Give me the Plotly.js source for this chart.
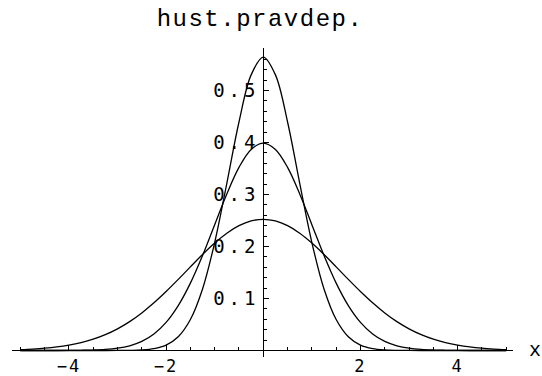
<!DOCTYPE html>
<html>
<head>
<meta charset="utf-8">
<script src="https://cdn.plot.ly/plotly-3.0.1.min.js"></script>
<style>
  html, body { margin: 0; padding: 0; background: #fff; }
  #chart { width: 542px; height: 376px; }
  .ytick text { letter-spacing: 4px; }
  .xtick text { letter-spacing: 2px; }
  .gtitle { letter-spacing: 1.5px; }
</style>
</head>
<body>
<div id="chart"></div>
<script>
// Sample points, x from -5 to 5 in steps of 0.25
const xs = [-5, -4.75, -4.5, -4.25, -4, -3.75, -3.5, -3.25, -3, -2.75, -2.5, -2.25, -2, -1.75, -1.5, -1.25, -1, -0.75, -0.5, -0.25,
            0, 0.25, 0.5, 0.75, 1, 1.25, 1.5, 1.75, 2, 2.25, 2.5, 2.75, 3, 3.25, 3.5, 3.75, 4, 4.25, 4.5, 4.75, 5];

// Narrow density (peak about 0.56)
const narrow = [0, 0, 0, 0, 0, 0, 0, 0, 0.0001, 0.0003, 0.0011, 0.0036, 0.0103, 0.0264, 0.0595, 0.1183, 0.2076, 0.3215, 0.4394, 0.5300,
                0.5642, 0.5300, 0.4394, 0.3215, 0.2076, 0.1183, 0.0595, 0.0264, 0.0103, 0.0036, 0.0011, 0.0003, 0.0001, 0, 0, 0, 0, 0, 0, 0, 0];

// Middle density (peak about 0.4)
const middle = [0, 0, 0, 0, 0.0001, 0.0004, 0.0009, 0.0020, 0.0044, 0.0091, 0.0175, 0.0317, 0.0540, 0.0863, 0.1295, 0.1826, 0.2420, 0.3011, 0.3521, 0.3867,
                0.3989, 0.3867, 0.3521, 0.3011, 0.2420, 0.1826, 0.1295, 0.0863, 0.0540, 0.0317, 0.0175, 0.0091, 0.0044, 0.0020, 0.0009, 0.0004, 0.0001, 0, 0, 0, 0];

// Wide density (peak about 0.25)
const wide = [0.0017, 0.0028, 0.0044, 0.0068, 0.0103, 0.0152, 0.0218, 0.0305, 0.0417, 0.0556, 0.0723, 0.0917, 0.1134, 0.1367, 0.1609, 0.1846, 0.2066, 0.2255, 0.2400, 0.2492,
              0.2523, 0.2492, 0.2400, 0.2255, 0.2066, 0.1846, 0.1609, 0.1367, 0.1134, 0.0917, 0.0723, 0.0556, 0.0417, 0.0305, 0.0218, 0.0152, 0.0103, 0.0068, 0.0044, 0.0028, 0.0017];

const xTickVals = [-4, -2, 2, 4];
const xTickText = ['\u22124', '\u22122', '2', '4'];
const yTickVals = [0.1, 0.2, 0.3, 0.4, 0.5];
const yTickText = ['0.1', '0.2', '0.3', '0.4', '0.5'];

const lineStyle = { color: '#000', width: 1.3, shape: 'spline', smoothing: 1 };
const traces = [narrow, middle, wide].map(ys => ({
  x: xs, y: ys, type: 'scatter', mode: 'lines', line: lineStyle, hoverinfo: 'skip'
}));

const xRange = [-5.171, 5.139];
const yRange = [-0.0125, 0.5817];

const monoSerif = 'Courier New, Courier, Nimbus Mono PS, FreeMono, Liberation Mono, monospace';

const layout = {
  width: 542, height: 376,
  margin: { l: 12, r: 29, t: 48, b: 19, pad: 0 },
  paper_bgcolor: '#fff', plot_bgcolor: '#fff',
  showlegend: false,
  title: {
    text: 'hust.pravdep.',
    x: 260 / 542, xanchor: 'center', xref: 'container',
    y: 1 - 18 / 376, yanchor: 'middle', yref: 'container',
    font: { family: monoSerif, size: 24, color: '#000' }
  },
  xaxis: {
    range: xRange, anchor: 'free',
    position: (0 - yRange[0]) / (yRange[1] - yRange[0]),
    showgrid: false, zeroline: false,
    showline: true, linecolor: '#000', linewidth: 1,
    tickmode: 'array', tickvals: xTickVals, ticktext: xTickText,
    ticks: 'inside', ticklen: 5, tickwidth: 1, tickcolor: '#000',
    minor: { tickmode: 'linear', tick0: 0, dtick: 0.5, ticks: 'inside', ticklen: 3, tickwidth: 1, tickcolor: '#000', showgrid: false },
    tickfont: { family: 'DejaVu Sans Mono, monospace', size: 17, color: '#000' },
    fixedrange: true
  },
  yaxis: {
    range: yRange, anchor: 'free',
    position: (0 - xRange[0]) / (xRange[1] - xRange[0]),
    showgrid: false, zeroline: false,
    showline: true, linecolor: '#000', linewidth: 1,
    tickmode: 'array', tickvals: yTickVals, ticktext: yTickText,
    ticks: 'inside', ticklen: 5, tickwidth: 1, tickcolor: '#000',
    minor: { tickmode: 'linear', tick0: 0, dtick: 0.02, ticks: 'inside', ticklen: 3, tickwidth: 1, tickcolor: '#000', showgrid: false },
    tickfont: { family: 'DejaVu Sans Mono, monospace', size: 19, color: '#000' },
    fixedrange: true
  },
  annotations: [{
    text: 'x', xref: 'paper', yref: 'y', x: 1.043, y: 0,
    xanchor: 'center', yanchor: 'middle', showarrow: false,
    font: { family: monoSerif, size: 20, color: '#000' }
  }]
};

Plotly.newPlot('chart', traces, layout, { staticPlot: true, displayModeBar: false });
</script>
</body>
</html>
